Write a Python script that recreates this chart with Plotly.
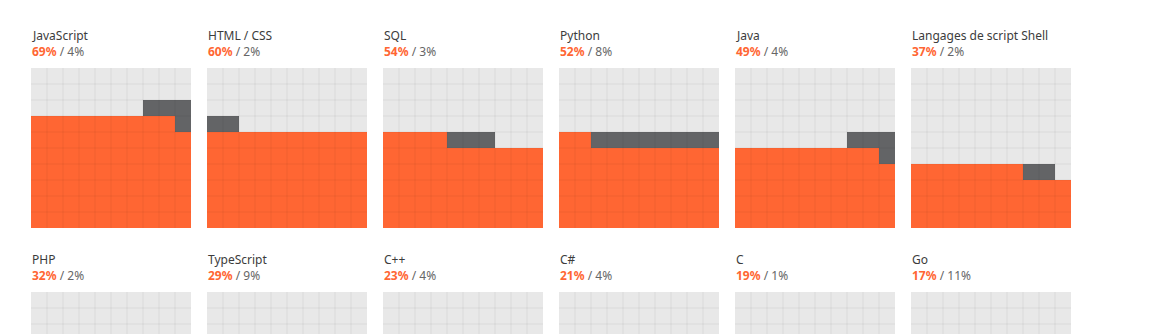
import plotly.graph_objects as go

# Share of developers using each language vs. wanting to learn it
languages = ["JavaScript", "HTML / CSS", "SQL", "Python", "Java", "Langages de script Shell",
             "PHP", "TypeScript", "C++", "C#", "C", "Go"]
used_pct = [69, 60, 54, 52, 49, 37, 32, 29, 23, 21, 19, 17]
wanted_pct = [4, 2, 3, 8, 4, 2, 2, 9, 4, 4, 1, 11]

W, H = 1156, 334
PANEL = 160          # px, 10 x 10 cells
COL_STEP = 176
ROW_STEP = 224
LEFT = 31
TOP = 68
NCOLS = 6

ORANGE = "#ff6633"
DARK = "#636466"
EMPTY = "#e8e8e8"

fig = go.Figure()


def waffle(used, wanted):
    """10x10 grid (row 0 at the bottom): 0 empty, 1 used, 2 wanted.
    Used cells fill rows left to right; wanted cells continue from there
    and snake back right to left when they wrap to the next row."""
    z = [[0] * 10 for _ in range(10)]
    order = []
    start_row = used // 10
    for row in range(10):
        cols = list(range(10))
        if row > start_row and (row - start_row) % 2 == 1:
            cols = cols[::-1]
        order += [(row, col) for col in cols]
    for k, (row, col) in enumerate(order):
        if k < used:
            z[row][col] = 1
        elif k < used + wanted:
            z[row][col] = 2
    return z


for i, (name, u, w) in enumerate(zip(languages, used_pct, wanted_pct)):
    r, c = divmod(i, NCOLS)
    x0 = LEFT + c * COL_STEP
    y_top = TOP + r * ROW_STEP
    y_bot = min(y_top + PANEL, H)
    visible_rows = (y_bot - y_top) / (PANEL / 10)
    n = i + 1
    xa = "xaxis" if n == 1 else f"xaxis{n}"
    ya = "yaxis" if n == 1 else f"yaxis{n}"
    xr = "x" if n == 1 else f"x{n}"
    yr = "y" if n == 1 else f"y{n}"

    fig.add_trace(go.Heatmap(
        z=waffle(u, w),
        x=[col + 0.5 for col in range(10)],
        y=[row + 0.5 for row in range(10)],
        zmin=0, zmax=2,
        colorscale=[[0, EMPTY], [0.5, ORANGE], [1, DARK]],
        showscale=False, hoverinfo="skip",
        xaxis=xr, yaxis=yr,
    ))

    # faint cell borders drawn over the cells
    gx, gy = [], []
    for k in range(1, 10):
        gx += [k, k, None]
        gy += [0, 10, None]
        gx += [0, 10, None]
        gy += [k, k, None]
    fig.add_trace(go.Scatter(
        x=gx, y=gy, mode="lines",
        line=dict(color="rgba(0,0,0,0.04)", width=1.5),
        hoverinfo="skip", showlegend=False,
        xaxis=xr, yaxis=yr,
    ))

    fig.layout[xa] = dict(domain=[x0 / W, (x0 + PANEL) / W], range=[0, 10],
                          visible=False, fixedrange=True)
    fig.layout[ya] = dict(domain=[1 - y_bot / H, 1 - y_top / H],
                          range=[10 - visible_rows, 10],
                          visible=False, fixedrange=True)

    fig.add_annotation(
        text=name, xref="paper", yref="paper",
        x=x0 / W, y=1 - (y_top - 33) / H, xanchor="left", yanchor="middle",
        showarrow=False, xshift=-1,
        font=dict(family="Noto Sans", size=12, color="#3c3c3c"),
    )
    fig.add_annotation(
        text=f"<b><span style='color:{ORANGE}'>{u}%</span></b> / {w}%",
        xref="paper", yref="paper",
        x=x0 / W, y=1 - (y_top - 17) / H, xanchor="left", yanchor="middle",
        showarrow=False, xshift=-1,
        font=dict(family="Noto Sans", size=12, color="#666666"),
    )

fig.update_layout(
    width=W, height=H,
    margin=dict(l=0, r=0, t=0, b=0),
    paper_bgcolor="white", plot_bgcolor="white",
    showlegend=False,
)

fig.write_html("out.html", config={"displayModeBar": False})
